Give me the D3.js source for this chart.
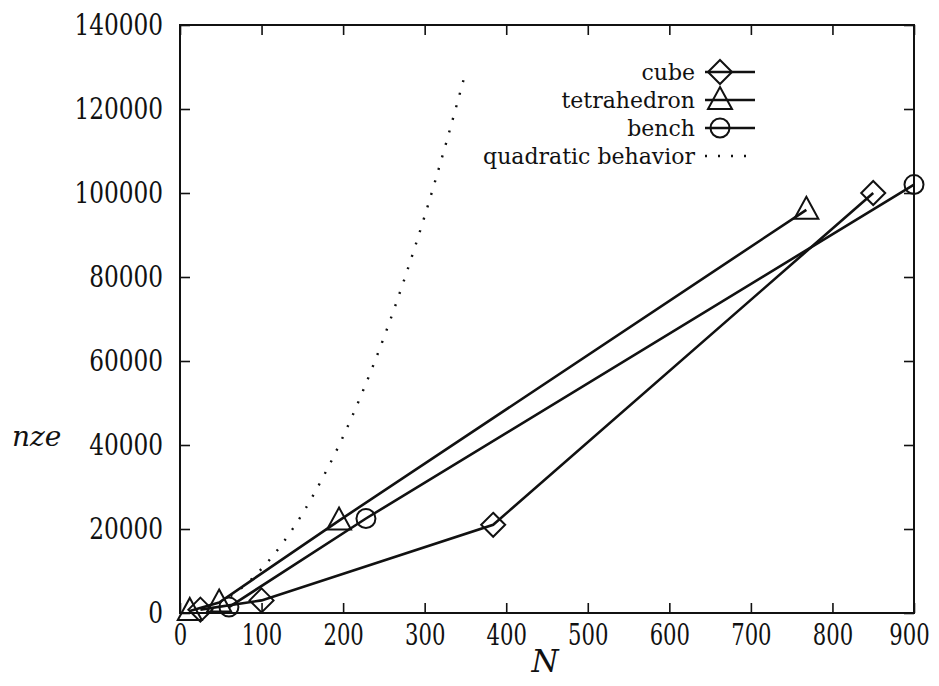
<html>
<head>
<style>
  body { margin: 0; background: #fff; }
  text { fill: #111; }
</style>
</head>
<body>
<svg id="chart"></svg>
<script src="https://d3js.org/d3.v7.min.js"></script>
<script>
// values
var cubeN   = [25, 100, 384, 850]
var cubeNze = [800, 3000, 21000, 100000]
var tetraN   = [12, 48, 195, 768]
var tetraNze = [500, 2500, 22000, 96000]
var benchN   = [60, 228, 900]
var benchNze = [1400, 22500, 102000]
// dotted curve, points read along it
var quadN   = [62, 80, 100, 125, 150, 175, 200, 225, 250, 275, 300, 325, 350]
var quadNze = [4000, 6700, 10500, 16400, 23600, 32200, 42000, 53200, 65600, 79400, 94500, 111000, 128600]

var xTicks = [0, 100, 200, 300, 400, 500, 600, 700, 800, 900]
var yTicks = [0, 20000, 40000, 60000, 80000, 100000, 120000, 140000]

var serif = 'DejaVu Serif'

var width = 939, height = 686
var svg = d3.select('#chart').attr('width', width).attr('height', height)

var x = d3.scaleLinear().domain([0, 900]).range([180, 914])
var y = d3.scaleLinear().domain([0, 140000]).range([613, 25])

// frame
svg.append('rect')
    .attr('x', 180).attr('y', 25)
    .attr('width', 734).attr('height', 588)
    .attr('fill', 'none').attr('stroke', '#111').attr('stroke-width', 2)

// ticks, mirrored on all sides, pointing inwards
var tickLen = 10
var fmt = d3.format('d')
svg.append('g').attr('class', 'xax').attr('transform', 'translate(0,613)')
    .call(d3.axisBottom(x).tickValues(xTicks).tickSize(-tickLen).tickPadding(11).tickFormat(fmt))
svg.append('g').attr('transform', 'translate(0,25)')
    .call(d3.axisTop(x).tickValues(xTicks).tickSize(-tickLen).tickFormat(''))
svg.append('g').attr('class', 'yax').attr('transform', 'translate(180,0)')
    .call(d3.axisLeft(y).tickValues(yTicks).tickSize(-tickLen).tickPadding(17).tickFormat(fmt))
svg.append('g').attr('transform', 'translate(914,0)')
    .call(d3.axisRight(y).tickValues(yTicks).tickSize(-tickLen).tickFormat(''))

svg.selectAll('.domain').remove()
svg.selectAll('.tick line').attr('stroke', '#111').attr('stroke-width', 1.6)
svg.selectAll('.xax, .yax').attr('font-family', serif).attr('font-size', 29)
svg.selectAll('.tick text').attr('fill', '#111')
// squeeze the digits sideways, like the narrow TeX figures
svg.selectAll('.yax .tick text')
    .attr('x', 0)
    .attr('transform', 'translate(-17,0) scale(0.8,1)')
svg.selectAll('.xax .tick text')
    .attr('transform', function(d) { return 'translate(' + (d === 900 ? -5 : 0) + ',0) scale(0.73,1)' })

// axis labels
svg.append('text').attr('x', 12).attr('y', 446)
    .attr('font-family', serif).attr('font-size', 28).attr('font-style', 'italic').text('nze')
svg.append('text').attr('x', 545).attr('y', 672).attr('text-anchor', 'middle')
    .attr('font-family', serif).attr('font-size', 31).attr('font-style', 'italic').text('N')

function zip(a, b) { return a.map(function(v, i) { return [v, b[i]] }) }

var line = d3.line().x(function(d) { return x(d[0]) }).y(function(d) { return y(d[1]) })

// quadratic dotted curve
svg.append('path')
    .datum(zip(quadN, quadNze))
    .attr('d', line.curve(d3.curveMonotoneX))
    .attr('fill', 'none').attr('stroke', '#111').attr('stroke-width', 2.4)
    .attr('stroke-dasharray', '2,11')
line.curve(d3.curveLinear)

function marker(g, kind, cx, cy) {
    if (kind === 'diamond') {
        g.append('path')
            .attr('d', 'M' + cx + ',' + (cy - 12) + 'L' + (cx + 12) + ',' + cy +
                       'L' + cx + ',' + (cy + 12) + 'L' + (cx - 12) + ',' + cy + 'Z')
    } else if (kind === 'triangle') {
        g.append('path')
            .attr('d', 'M' + cx + ',' + (cy - 13) + 'L' + (cx + 12) + ',' + (cy + 9) +
                       'L' + (cx - 12) + ',' + (cy + 9) + 'Z')
    } else {
        g.append('circle').attr('cx', cx).attr('cy', cy).attr('r', 9.5)
    }
}

var series = [
    { name: 'cube', kind: 'diamond', pts: zip(cubeN, cubeNze) },
    { name: 'tetrahedron', kind: 'triangle', pts: zip(tetraN, tetraNze) },
    { name: 'bench', kind: 'circle', pts: zip(benchN, benchNze) }
]

series.forEach(function(s) {
    svg.append('path').datum(s.pts).attr('d', line)
        .attr('fill', 'none').attr('stroke', '#111').attr('stroke-width', 2.6)
    var g = svg.append('g').attr('fill', 'none').attr('stroke', '#111').attr('stroke-width', 2)
    s.pts.forEach(function(p) { marker(g, s.kind, x(p[0]), y(p[1])) })
})

// legend
var legY = [72, 100, 128, 156]
var legNames = series.map(function(s) { return s.name }).concat(['quadratic behavior'])
legNames.forEach(function(name, i) {
    svg.append('text').attr('x', 695).attr('y', legY[i] + 8).attr('text-anchor', 'end')
        .attr('font-family', serif).attr('font-size', 22).text(name)
    var ln = svg.append('line').attr('x1', 705).attr('x2', 755).attr('y1', legY[i]).attr('y2', legY[i])
        .attr('stroke', '#111').attr('stroke-width', 2.6)
    if (i < 3) {
        var g = svg.append('g').attr('fill', 'none').attr('stroke', '#111').attr('stroke-width', 2)
        marker(g, series[i].kind, 720, legY[i])
    } else {
        ln.attr('stroke-width', 2.4).attr('stroke-dasharray', '2,11')
    }
})
</script>
</body>
</html>
